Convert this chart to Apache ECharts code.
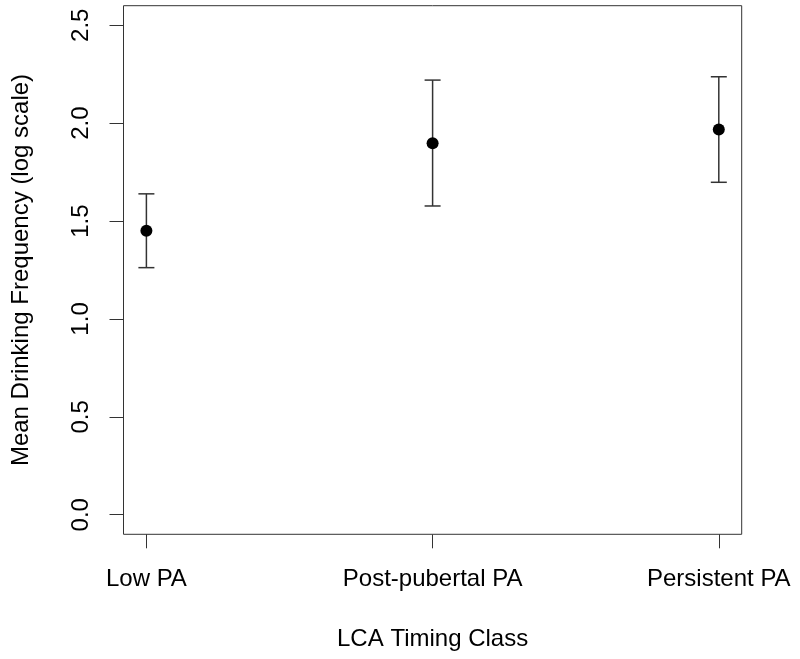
<!DOCTYPE html>
<html>
<head>
<meta charset="utf-8">
<script src="https://cdn.jsdelivr.net/npm/echarts@6/dist/echarts.min.js"></script>
<style>
  html, body { margin: 0; padding: 0; background: #fff; }
  #chart { width: 800px; height: 659px; }
</style>
</head>
<body>
<div id="chart"></div>
<script>
const classes = ['Low PA', 'Post-pubertal PA', 'Persistent PA']
const classPos = [1, 2, 3]
const means = [1.45, 1.898, 1.968]
const lower = [1.262, 1.577, 1.698]
const upper = [1.639, 2.22, 2.237]
const yTicks = [0, 0.5, 1, 1.5, 2, 2.5]

const font = 'Liberation Sans, Arial, sans-serif'
const chart = echarts.init(document.getElementById('chart'))

chart.setOption({
  animation: false,
  grid: {
    left: 123.5, right: 58.3, top: 5.7, bottom: 124.7,
    show: true, borderColor: '#333', borderWidth: 1, backgroundColor: '#fff'
  },
  xAxis: {
    type: 'value',
    min: 0.92,
    max: 3.08,
    name: 'LCA Timing Class',
    nameLocation: 'middle',
    nameGap: 93,
    nameTextStyle: { fontFamily: font, fontSize: 24, color: '#000' },
    axisLine: { show: false, onZero: false },
    splitLine: { show: false },
    axisTick: { show: true, length: 14, inside: false, customValues: classPos, lineStyle: { color: '#333' } },
    axisLabel: {
      customValues: classPos,
      margin: 33,
      fontFamily: font, fontSize: 24, color: '#000',
      formatter: (v) => classes[classPos.indexOf(v)] || ''
    }
  },
  yAxis: {
    type: 'value',
    min: -0.1,
    max: 2.6,
    name: 'Mean Drinking Frequency (log scale)',
    nameLocation: 'middle',
    nameGap: 90,
    nameRotate: 90,
    nameTextStyle: { fontFamily: font, fontSize: 24, color: '#000' },
    axisLine: { show: false, onZero: false },
    splitLine: { show: false },
    axisTick: { show: true, length: 14, inside: false, customValues: yTicks, lineStyle: { color: '#333' } },
    axisLabel: {
      customValues: yTicks,
      rotate: 90,
      margin: 30,
      fontFamily: font, fontSize: 24, color: '#000',
      formatter: (v) => v.toFixed(1)
    }
  },
  series: [
    {
      type: 'custom',
      data: classPos.map((x, i) => [x, lower[i], upper[i]]),
      renderItem(params, api) {
        const lo = api.coord([api.value(0), api.value(1)])
        const hi = api.coord([api.value(0), api.value(2)])
        const half = 8
        const style = { stroke: '#333', lineWidth: 1.5 }
        return {
          type: 'group',
          children: [
            { type: 'line', shape: { x1: lo[0], y1: lo[1], x2: hi[0], y2: hi[1] }, style },
            { type: 'line', shape: { x1: lo[0] - half, y1: lo[1], x2: lo[0] + half, y2: lo[1] }, style },
            { type: 'line', shape: { x1: hi[0] - half, y1: hi[1], x2: hi[0] + half, y2: hi[1] }, style }
          ]
        }
      },
      z: 2
    },
    {
      type: 'scatter',
      data: classPos.map((x, i) => [x, means[i]]),
      symbol: 'circle',
      symbolSize: 12,
      itemStyle: { color: '#000', opacity: 1 },
      z: 3
    }
  ]
})
</script>
</body>
</html>
